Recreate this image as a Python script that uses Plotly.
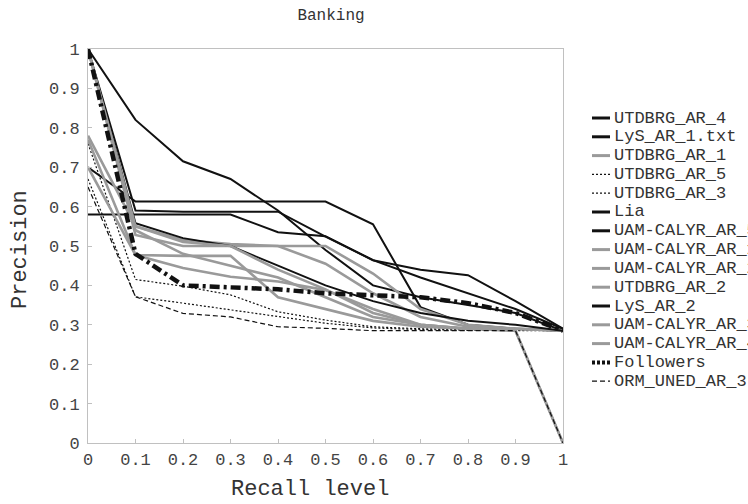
import plotly.graph_objects as go

recall = [0, 0.1, 0.2, 0.3, 0.4, 0.5, 0.6, 0.7, 0.8, 0.9, 1.0]
tick_labels = ["0", "0.1", "0.2", "0.3", "0.4", "0.5", "0.6", "0.7", "0.8", "0.9", "1"]

names = ["UTDBRG_AR_4", "LyS_AR_1.txt", "UTDBRG_AR_1", "UTDBRG_AR_5", "UTDBRG_AR_3",
         "Lia", "UAM-CALYR_AR_5", "UAM-CALYR_AR_1", "UAM-CALYR_AR_2", "UTDBRG_AR_2",
         "LyS_AR_2", "UAM-CALYR_AR_3", "UAM-CALYR_AR_4", "Followers", "ORM_UNED_AR_3"]

utdbrg_ar_4 = [1.00, 0.82, 0.715, 0.67, 0.59, 0.49, 0.40, 0.37, 0.35, 0.33, 0.285]
lys_ar_1 = [0.70, 0.613, 0.613, 0.613, 0.613, 0.613, 0.555, 0.345, 0.30, 0.29, 0.285]
utdbrg_ar_1 = [0.78, 0.55, 0.515, 0.505, 0.50, 0.50, 0.43, 0.34, 0.30, 0.29, 0.285]
utdbrg_ar_5 = [0.76, 0.415, 0.398, 0.376, 0.333, 0.312, 0.295, 0.29, 0.288, 0.286, 0.285]
utdbrg_ar_3 = [0.67, 0.371, 0.355, 0.338, 0.32, 0.304, 0.292, 0.288, 0.286, 0.285, 0.285]
lia = [0.58, 0.58, 0.58, 0.58, 0.535, 0.525, 0.464, 0.44, 0.426, 0.36, 0.29]
uam_calyr_ar_5 = [1.00, 0.59, 0.587, 0.587, 0.587, 0.524, 0.464, 0.42, 0.38, 0.34, 0.29]
uam_calyr_ar_1 = [1.00, 0.528, 0.50, 0.50, 0.50, 0.455, 0.38, 0.32, 0.295, 0.29, 0.285]
uam_calyr_ar_2 = [0.77, 0.477, 0.475, 0.475, 0.37, 0.34, 0.31, 0.295, 0.29, 0.29, 0.285]
utdbrg_ar_2 = [0.70, 0.477, 0.444, 0.422, 0.41, 0.388, 0.34, 0.30, 0.29, 0.29, 0.285]
lys_ar_2 = [1.00, 0.558, 0.52, 0.50, 0.45, 0.40, 0.36, 0.33, 0.31, 0.30, 0.285]
uam_calyr_ar_3 = [1.00, 0.55, 0.51, 0.50, 0.44, 0.39, 0.33, 0.30, 0.29, 0.285, 0.0]
uam_calyr_ar_4 = [1.00, 0.54, 0.48, 0.45, 0.42, 0.37, 0.32, 0.30, 0.29, 0.285, 0.0]
followers = [1.00, 0.48, 0.40, 0.395, 0.39, 0.38, 0.375, 0.37, 0.355, 0.33, 0.285]
orm_uned_ar_3 = [0.65, 0.371, 0.329, 0.32, 0.295, 0.291, 0.285, 0.285, 0.285, 0.285, 0.0]

series = [utdbrg_ar_4, lys_ar_1, utdbrg_ar_1, utdbrg_ar_5, utdbrg_ar_3, lia, uam_calyr_ar_5,
          uam_calyr_ar_1, uam_calyr_ar_2, utdbrg_ar_2, lys_ar_2, uam_calyr_ar_3, uam_calyr_ar_4,
          followers, orm_uned_ar_3]

BLACK = "#111111"
GRAY = "#9a9a9a"
black_s = dict(color=BLACK, width=2, dash="solid")
gray_s = dict(color=GRAY, width=2.6, dash="solid")
dot_s = dict(color=BLACK, width=1.2, dash="2px,2px")
fol_s = dict(color=BLACK, width=4.5, dash="10px,4px,3px,4px")
dash_s = dict(color=BLACK, width=1.2, dash="5px,3px")
styles = [black_s, black_s, gray_s, dot_s, dot_s, black_s, black_s, gray_s, gray_s, gray_s,
          black_s, gray_s, gray_s, fol_s, dash_s]
leg_styles = [dict(s, width=3) if s["dash"] == "solid" else s for s in styles]
leg_styles[13] = dict(color=BLACK, width=4, dash="3px,2px")

FONT = "Liberation Mono, Courier New, monospace"

fig = go.Figure()
for name, vals, st in zip(names, series, styles):
    fig.add_trace(go.Scatter(x=recall, y=vals, mode="lines", name=name, line=st,
                             showlegend=False))

# Plot-area pixel frame
L, R, T, B = 88, 563, 49, 443
W, H = R - L, B - T
def px_x(p):
    return (p - L) / W
def px_y(p):
    return (B - p) / H

# Manual legend (paper coordinates), clipped at the right edge like the reference
y0, dy = 118, 18.8
for i, (name, st) in enumerate(zip(names, leg_styles)):
    yy = px_y(y0 + i * dy)
    fig.add_shape(type="line", xref="paper", yref="paper",
                  x0=px_x(592), x1=px_x(610), y0=yy, y1=yy, line=st)
    fig.add_annotation(xref="paper", yref="paper", x=px_x(612), y=yy, text=name,
                       showarrow=False, xanchor="left", yanchor="middle",
                       font=dict(family=FONT, size=17, color="#333333"))

# Axis titles
fig.add_annotation(xref="paper", yref="paper", x=px_x(310), y=px_y(489), text="Recall level",
                   showarrow=False, xanchor="center", yanchor="middle",
                   font=dict(family=FONT, size=22, color="#333333"))
fig.add_annotation(xref="paper", yref="paper", x=px_x(20), y=px_y(250), text="Precision",
                   showarrow=False, xanchor="center", yanchor="middle", textangle=-90,
                   font=dict(family=FONT, size=22, color="#333333"))

axis_common = dict(showgrid=False, zeroline=False, showline=True, linecolor="#c0c0c0",
                   linewidth=1, mirror=True, ticks="inside", ticklen=4, tickcolor="#c0c0c0",
                   tickfont=dict(family=FONT, size=17, color="#444444"))

fig.update_layout(
    width=748, height=504,
    margin=dict(l=L, r=748 - R, t=T, b=504 - B),
    paper_bgcolor="white", plot_bgcolor="white",
    showlegend=False,
    title=dict(text="Banking", x=331 / 748, xanchor="center", y=1 - 14 / 504, yanchor="middle",
               font=dict(family=FONT, size=16, color="#333333")),
    xaxis=dict(range=[0, 1], tickvals=recall, ticktext=tick_labels,
               ticklabelstandoff=1, **axis_common),
    yaxis=dict(range=[0, 1], tickvals=recall, ticktext=tick_labels,
               ticklabelstandoff=4, **axis_common),
)

fig.write_html("out.html", config={"displayModeBar": False},
               post_script="document.body.style.margin='0';document.body.style.overflow='hidden';")
